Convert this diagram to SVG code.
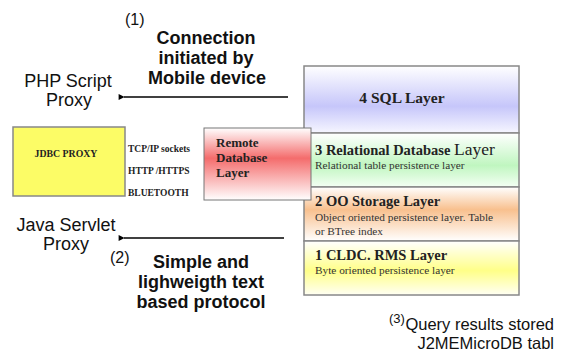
<svg xmlns="http://www.w3.org/2000/svg" width="566" height="356" viewBox="0 0 566 356">
<style>
.sans{font-family:"Liberation Sans",Arial,sans-serif;fill:#111}
.big{font-size:18px}
.bold{font-weight:bold}
.serif{font-family:"Liberation Serif","Times New Roman",serif;fill:#222}
.lt{font-family:"Liberation Serif","Times New Roman",serif;font-weight:bold;font-size:14.5px;fill:#222}
.ls{font-family:"Liberation Serif","Times New Roman",serif;font-size:11.3px;fill:#333}
.layer{stroke:#888;stroke-width:1.5}
.conn{stroke:#000;stroke-width:1.3;fill:none}
</style>
<defs>
<marker id="ah" viewBox="0 0 10 10" refX="1" refY="5" markerWidth="7" markerHeight="6" orient="auto" markerUnits="userSpaceOnUse">
<path d="M10,0 L0,5 L10,10 z" fill="#000"/>
</marker>
<linearGradient id="gRemote" x1="0" y1="0" x2="0" y2="1">
<stop offset="0" stop-color="#ffffff"/>
<stop offset="0.42" stop-color="#f46c6c"/>
<stop offset="1" stop-color="#ffffff"/>
</linearGradient>
<linearGradient id="g4" x1="0" y1="0" x2="0" y2="1">
<stop offset="0" stop-color="#ffffff"/>
<stop offset="0.6" stop-color="#c6c6fa"/>
<stop offset="1" stop-color="#f6f6ff"/>
</linearGradient>
<linearGradient id="g3" x1="0" y1="0" x2="0" y2="1">
<stop offset="0" stop-color="#ffffff"/>
<stop offset="0.6" stop-color="#c0f6c0"/>
<stop offset="1" stop-color="#f4fff4"/>
</linearGradient>
<linearGradient id="g2" x1="0" y1="0" x2="0" y2="1">
<stop offset="0" stop-color="#ffffff"/>
<stop offset="0.42" stop-color="#f8c08e"/>
<stop offset="1" stop-color="#ffffff"/>
</linearGradient>
<linearGradient id="g1" x1="0" y1="0" x2="0" y2="1">
<stop offset="0" stop-color="#ffffff"/>
<stop offset="0.55" stop-color="#ffff88"/>
<stop offset="1" stop-color="#fffff4"/>
</linearGradient>
</defs>
<rect width="566" height="356" fill="#ffffff"/>

<g id="layer4">
<rect class="layer" x="304" y="66" width="215" height="67" fill="url(#g4)"/>
<text class="lt" x="402" y="103" text-anchor="middle" style="font-size:15.5px">4 SQL Layer</text>
</g>
<g id="layer3">
<rect class="layer" x="304" y="133" width="215" height="54" fill="url(#g3)"/>
<text class="lt" x="315" y="155">3 Relational Database <tspan style="font-weight:normal;font-size:17.5px">Layer</tspan></text>
<text class="ls" x="315" y="169">Relational table persistence layer</text>
</g>
<g id="layer2">
<rect class="layer" x="304" y="187" width="215" height="54" fill="url(#g2)"/>
<text class="lt" x="315" y="206">2 OO Storage Layer</text>
<text class="ls" x="315" y="221">Object oriented persistence layer. Table</text>
<text class="ls" x="315" y="235">or BTree index</text>
</g>
<g id="layer1">
<rect class="layer" x="304" y="241" width="215" height="54" fill="url(#g1)"/>
<text class="lt" x="315" y="260">1 CLDC. RMS Layer</text>
<text class="ls" x="315" y="274">Byte oriented persistence layer</text>
</g>

<g id="remote">
<rect x="204" y="128" width="107" height="72" fill="url(#gRemote)" stroke="#777" stroke-width="1"/>
<text class="serif bold" x="216" y="147" style="font-size:13px">Remote</text>
<text class="serif bold" x="216" y="162" style="font-size:13px">Database</text>
<text class="serif bold" x="216" y="177" style="font-size:13px">Layer</text>
</g>

<g id="jdbc">
<rect x="13" y="127" width="112" height="69" fill="#fcfc66" stroke="#888" stroke-width="1.5"/>
<text class="serif bold" x="66" y="157" text-anchor="middle" style="font-size:9.8px">JDBC PROXY</text>
</g>

<g id="transports">
<text class="serif bold" x="128" y="152" style="font-size:9.5px">TCP/IP sockets</text>
<text class="serif bold" x="128" y="174" style="font-size:9.5px">HTTP /HTTPS</text>
<text class="serif bold" x="128" y="196" style="font-size:9.5px">BLUETOOTH</text>
</g>

<g id="php">
<text class="sans big" x="68" y="87" text-anchor="middle">PHP Script</text>
<text class="sans big" x="69" y="106" text-anchor="middle">Proxy</text>
</g>

<g id="java">
<text class="sans big" x="66" y="231" text-anchor="middle">Java Servlet</text>
<text class="sans big" x="66" y="250" text-anchor="middle">Proxy</text>
</g>

<g id="label1">
<text class="sans" x="125" y="25" style="font-size:16px">(1)</text>
<text class="sans big bold" x="206" y="44" text-anchor="middle">Connection</text>
<text class="sans big bold" x="206" y="64" text-anchor="middle">initiated by</text>
<text class="sans big bold" x="207" y="84" text-anchor="middle">Mobile device</text>
</g>

<g id="label2">
<text class="sans" x="110" y="263" style="font-size:16px">(2)</text>
<text class="sans big bold" x="201" y="268" text-anchor="middle">Simple and</text>
<text class="sans big bold" x="201" y="288" text-anchor="middle">lighweigth text</text>
<text class="sans big bold" x="201" y="308" text-anchor="middle">based protocol</text>
</g>

<g id="label3">
<text class="sans" x="389" y="323" style="font-size:13px">(3)</text>
<text class="sans" x="554" y="330" text-anchor="end" style="font-size:16.5px">Query results stored</text>
<text class="sans" x="554" y="349" text-anchor="end" style="font-size:16.5px">J2MEMicroDB tabl</text>
</g>

<g id="connectors">
<line class="conn" x1="288" y1="97" x2="124" y2="97" marker-end="url(#ah)"/>
<line class="conn" x1="284" y1="238" x2="124" y2="238" marker-end="url(#ah)"/>
</g>
</svg>
